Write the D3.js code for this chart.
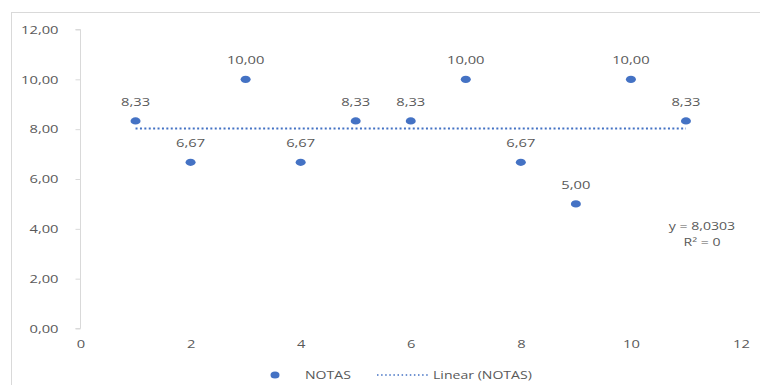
<!DOCTYPE html>
<html>
<head>
<meta charset="utf-8">
<script src="https://cdn.jsdelivr.net/npm/d3@7"></script>
<style>
  html, body { margin: 0; padding: 0; background: #fff; }
  svg { display: block; }
  text { font-family: "Open Sans", "Noto Sans", sans-serif; fill: #595959; }
</style>
</head>
<body>
<svg id="chart" width="760" height="385"></svg>
<script>
// Series: NOTAS
const xValues = [1, 2, 3, 4, 5, 6, 7, 8, 9, 10, 11];
const notas = [8.33, 6.67, 10.00, 6.67, 8.33, 8.33, 10.00, 6.67, 5.00, 10.00, 8.33];
const yTicks = [0, 2, 4, 6, 8, 10, 12];
const xTicks = [0, 2, 4, 6, 8, 10, 12];
// Linear trendline as reported by the fit
const trendIntercept = 8.0303;
const trendSlope = 0;
const trendR2 = 0;
const seriesName = "NOTAS";
const trendName = "Linear (NOTAS)";

const fmt = v => d3.format(".2f")(v).replace(".", ",");
const WIDEN = 1.28;

// Horizontally widen text around its anchor point
function widen(sel) {
  sel.each(function () {
    const t = d3.select(this);
    const tx = +t.attr("x") || 0, ty = +t.attr("y") || 0;
    t.attr("x", 0).attr("y", 0)
     .attr("transform", `translate(${tx},${ty}) scale(${WIDEN},1)`);
  });
}

const svg = d3.select("#chart");

// Chart-area border
svg.append("rect")
  .attr("x", 11.5).attr("y", 12.5)
  .attr("width", 800).attr("height", 400)
  .attr("fill", "none").attr("stroke", "#d9d9d9").attr("stroke-width", 1);

const x = d3.scaleLinear().domain([0, 12]).range([80.5, 741]);
const y = d3.scaleLinear().domain([0, 12]).range([328.5, 29.5]);

// Y axis: line plus short outward ticks
const yAxis = svg.append("g").attr("transform", `translate(${x(0)},0)`)
  .call(d3.axisLeft(y).tickValues(yTicks).tickSize(5).tickPadding(17).tickFormat(fmt));
yAxis.select(".domain").attr("stroke", "#d9d9d9").attr("d", `M-5,${y(12)}H0V${y(0)}H-5`);
yAxis.selectAll(".tick line").attr("stroke", "#d9d9d9");
yAxis.selectAll(".tick text")
  .style("font-size", "11.5px").attr("fill", "#595959")
  .attr("font-family", null).call(widen);

// X axis: labels only
const xAxis = svg.append("g").attr("transform", `translate(0,${y(0)})`)
  .call(d3.axisBottom(x).tickValues(xTicks).tickSize(0).tickPadding(11).tickFormat(d3.format("d")));
xAxis.select(".domain").remove();
xAxis.selectAll(".tick text")
  .style("font-size", "11.5px").attr("fill", "#595959")
  .attr("font-family", null).call(widen);

// Linear trendline over the data range
const x0 = d3.min(xValues), x1 = d3.max(xValues);
svg.append("line")
  .attr("x1", x(x0)).attr("y1", y(trendIntercept + trendSlope * x0))
  .attr("x2", x(x1)).attr("y2", y(trendIntercept + trendSlope * x1))
  .attr("stroke", "#4472c4").attr("stroke-width", 2)
  .attr("stroke-dasharray", "2,2.4");

const pts = xValues.map((xv, i) => ({ x: xv, y: notas[i] }));

// Points
svg.append("g").selectAll("ellipse")
  .data(pts)
  .join("ellipse")
  .attr("cx", d => x(d.x)).attr("cy", d => y(d.y))
  .attr("rx", 5).attr("ry", 3.6)
  .attr("fill", "#4472c4");

// Data labels
svg.append("g").selectAll("text")
  .data(pts)
  .join("text")
  .attr("x", d => x(d.x)).attr("y", d => y(d.y) - 15)
  .attr("text-anchor", "middle")
  .style("font-size", "11.5px")
  .text(d => fmt(d.y))
  .call(widen);

// Trendline equation
const eqG = svg.append("g").attr("transform", `translate(702,0) scale(${WIDEN},1)`);
eqG.append("text").attr("x", 0).attr("y", 230).attr("text-anchor", "middle").style("font-size", "11px")
  .text("y = " + d3.format(".4f")(trendIntercept).replace(".", ","));
eqG.append("text").attr("x", 0).attr("y", 246).attr("text-anchor", "middle").style("font-size", "11px")
  .text("R² = " + trendR2);

// Legend
const lg = svg.append("g");
lg.append("ellipse").attr("cx", 275).attr("cy", 375).attr("rx", 4.5).attr("ry", 3.5).attr("fill", "#4472c4");
lg.append("text").attr("x", 305).attr("y", 379).style("font-size", "11px").text(seriesName).call(widen);
lg.append("line").attr("x1", 377).attr("x2", 430).attr("y1", 375).attr("y2", 375)
  .attr("stroke", "#4472c4").attr("stroke-width", 1.5).attr("stroke-dasharray", "1.5,2.6");
lg.append("text").attr("x", 433).attr("y", 379).style("font-size", "11px").text(trendName).call(widen);
</script>
</body>
</html>
